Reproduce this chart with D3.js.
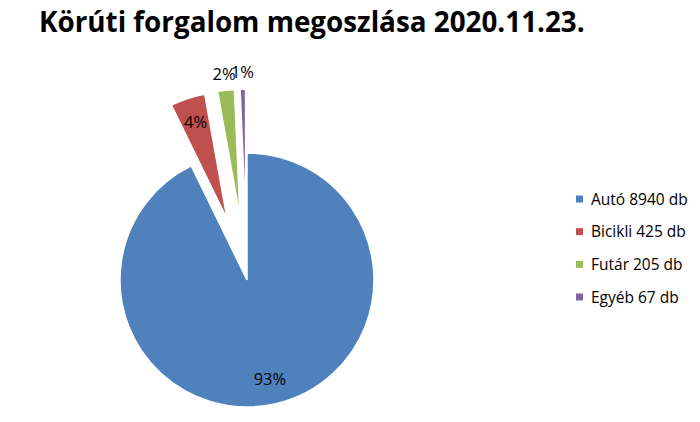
<!DOCTYPE html>
<html>
<head>
<meta charset="utf-8">
<script src="https://cdn.jsdelivr.net/npm/d3@7"></script>
<style>
  body { margin: 0; background: #fff; }
  text { font-family: "Open Sans", sans-serif; }
</style>
</head>
<body>
<div id="container"></div>
<script>
let w = 700;
let h = 422;

// data
let categories = ["Autó", "Bicikli", "Futár", "Egyéb"];
let counts = [8940, 425, 205, 67];
let legendLabels = ["Autó 8940 db", "Bicikli 425 db", "Futár 205 db", "Egyéb 67 db"];
let colors = ["#4F81BD", "#C0504D", "#9BBB59", "#8064A2"];

let cx = 247;
let cy = 280;
let radius = 127;
let explodeOffset = 64;

let viz = d3.select("#container")
  .append("svg")
  .attr("width", w)
  .attr("height", h)
  ;

viz.append("text")
  .attr("x", 39)
  .attr("y", 32)
  .attr("font-size", 27.8)
  .attr("font-weight", "bold")
  .attr("fill", "#000")
  .text("Körúti forgalom megoszlása 2020.11.23.");

let total = d3.sum(counts);

let pie = d3.pie().sort(null).value(function (d) { return d; });
let arcs = pie(counts);

let arc = d3.arc().innerRadius(0).outerRadius(radius);

let color = d3.scaleOrdinal().domain(categories).range(colors);

function midAngle(d) {
  return (d.startAngle + d.endAngle) / 2;
}

// every slice except the first one is pulled out
function offset(d, i) {
  let o = i == 0 ? 0 : explodeOffset;
  let a = midAngle(d);
  return [Math.sin(a) * o, -Math.cos(a) * o];
}

let pieGroup = viz.append("g")
  .attr("transform", "translate(" + cx + "," + cy + ")");

let slices = pieGroup.selectAll(".slice")
  .data(arcs)
  .enter()
  .append("g")
  .attr("class", "slice")
  .attr("transform", function (d, i) {
    let o = offset(d, i);
    return "translate(" + o[0] + "," + o[1] + ")";
  });

slices.append("path")
  .attr("d", arc)
  .attr("fill", function (d, i) { return color(categories[i]); })
  .attr("stroke", "#fff")
  .attr("stroke-width", 1.5);

// small slices get their label outside
slices.append("text")
  .attr("x", function (d) {
    let r = d.value / total < 0.03 ? radius * 1.13 : radius * 0.8;
    return Math.sin(midAngle(d)) * r;
  })
  .attr("y", function (d) {
    let r = d.value / total < 0.03 ? radius * 1.13 : radius * 0.8;
    return -Math.cos(midAngle(d)) * r;
  })
  .attr("dy", "0.35em")
  .attr("text-anchor", "middle")
  .attr("font-size", 16.5)
  .attr("fill", "#000")
  .text(function (d) { return Math.round(d.value / total * 100) + "%"; });

// legend
let legendY = d3.scalePoint().domain(categories).range([199, 297]);

let legend = viz.selectAll(".legend")
  .data(categories)
  .enter()
  .append("g")
  .attr("class", "legend")
  .attr("transform", function (d) { return "translate(576," + legendY(d) + ")"; });

legend.append("rect")
  .attr("x", 0)
  .attr("y", -3.5)
  .attr("width", 7)
  .attr("height", 7)
  .attr("fill", function (d) { return color(d); });

legend.append("text")
  .attr("x", 15)
  .attr("y", 0)
  .attr("dy", "0.36em")
  .attr("font-size", 15.5)
  .attr("fill", "#000")
  .text(function (d, i) { return legendLabels[i]; });
</script>
</body>
</html>
